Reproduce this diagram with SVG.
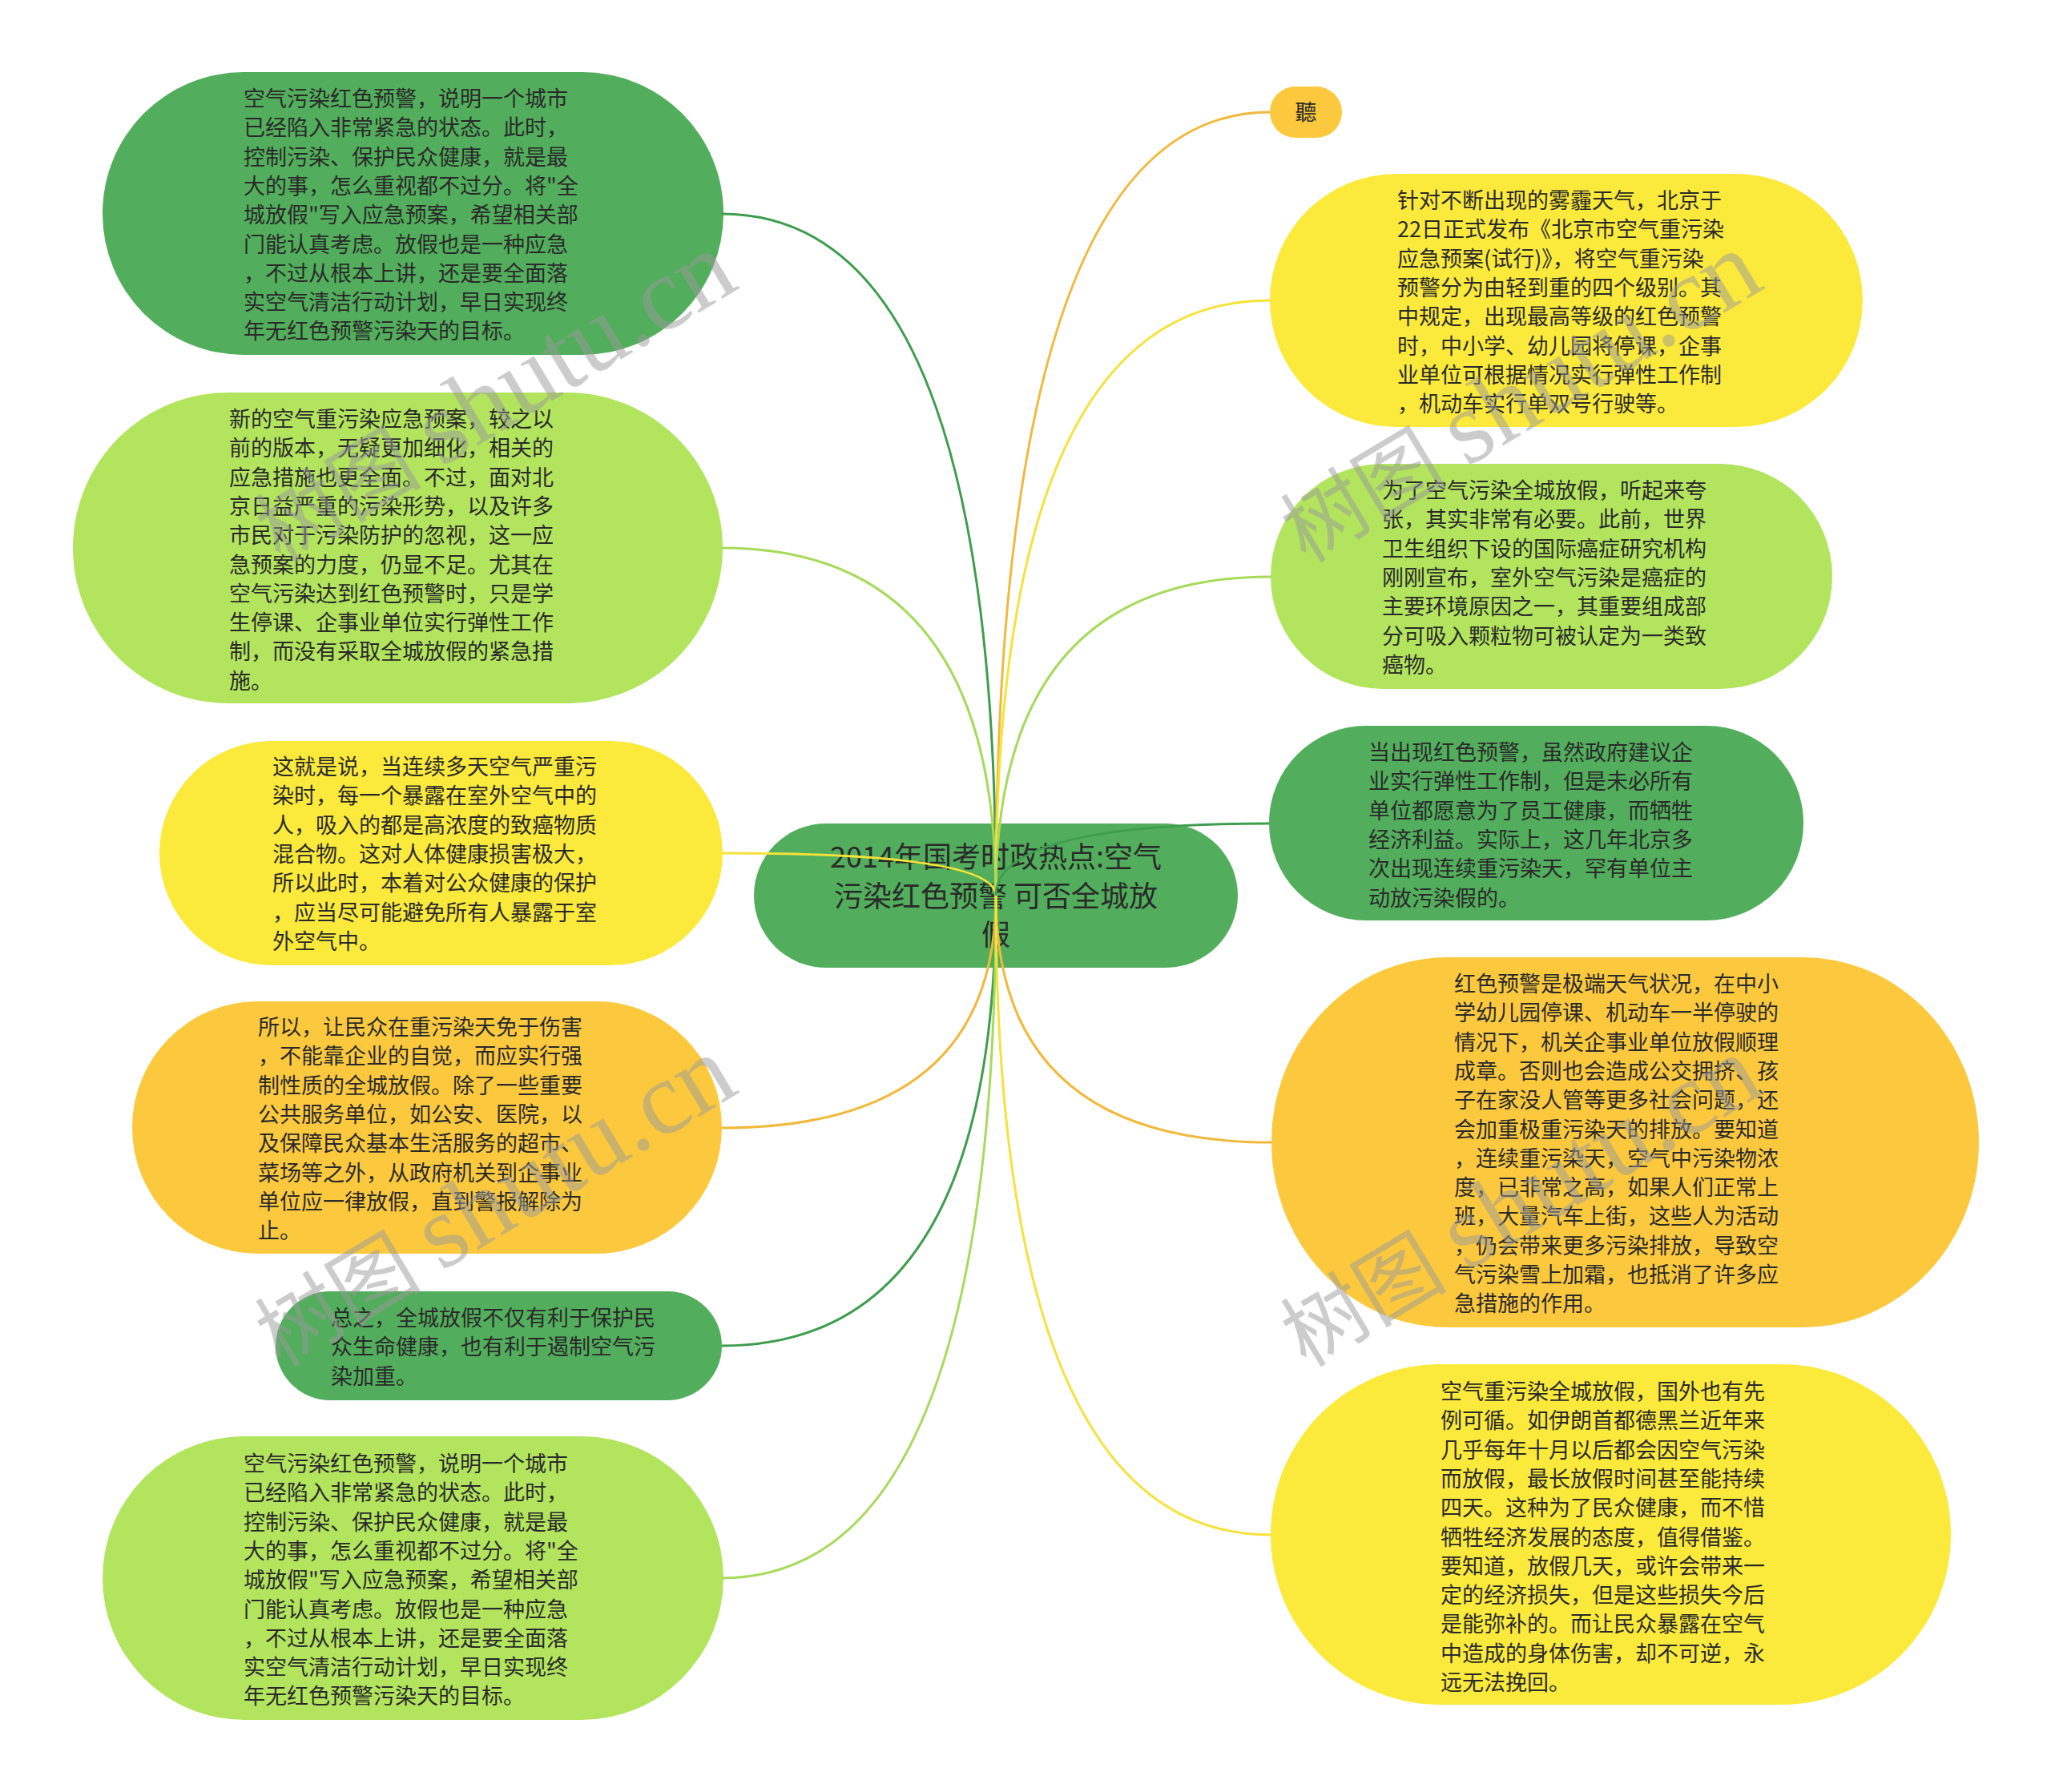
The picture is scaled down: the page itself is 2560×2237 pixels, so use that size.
<svg xmlns="http://www.w3.org/2000/svg" width="2560" height="2237" viewBox="0 0 2560 2237">
<style>
.t{font-family:"Noto Sans CJK SC","Noto Sans",sans-serif;font-size:27px;fill:#2a2a2a}
.ct{font-family:"Noto Sans CJK SC","Noto Sans",sans-serif;font-size:36px;fill:#2a2a2a;text-anchor:middle}
.dg{fill:#52ae5c}.lg{fill:#b3e45e}.yl{fill:#fbe93b}.or{fill:#fcc93e}
.e{fill:none;stroke-width:3}
.edg{stroke:#3f9d4e}.elg{stroke:#a7da5b}.eyl{stroke:#f5e23b}.eor{stroke:#f1b93c}
.wm{font-family:"Liberation Serif","Noto Sans CJK SC",serif;font-size:104px;fill:#9a9a9a;opacity:0.5}
.wl{font-size:130px}
</style>
<rect width="2560" height="2237" fill="#ffffff"/>
<g id="nodes">
<g id="n-left1">
<rect class="dg" x="128" y="90" width="775" height="353" rx="176" ry="176"/>
<text class="t" x="304" y="133"><tspan x="304" dy="0">空气污染红色预警，说明一个城市</tspan><tspan x="304" dy="36.3">已经陷入非常紧急的状态。此时，</tspan><tspan x="304" dy="36.3">控制污染、保护民众健康，就是最</tspan><tspan x="304" dy="36.3">大的事，怎么重视都不过分。将"全</tspan><tspan x="304" dy="36.3">城放假"写入应急预案，希望相关部</tspan><tspan x="304" dy="36.3">门能认真考虑。放假也是一种应急</tspan><tspan x="304" dy="36.3">，不过从根本上讲，还是要全面落</tspan><tspan x="304" dy="36.3">实空气清洁行动计划，早日实现终</tspan><tspan x="304" dy="36.3">年无红色预警污染天的目标。</tspan></text>
</g>
<g id="n-left2">
<rect class="lg" x="91" y="490" width="811" height="388" rx="194" ry="194"/>
<text class="t" x="286" y="533"><tspan x="286" dy="0">新的空气重污染应急预案，较之以</tspan><tspan x="286" dy="36.3">前的版本，无疑更加细化，相关的</tspan><tspan x="286" dy="36.3">应急措施也更全面。不过，面对北</tspan><tspan x="286" dy="36.3">京日益严重的污染形势，以及许多</tspan><tspan x="286" dy="36.3">市民对于污染防护的忽视，这一应</tspan><tspan x="286" dy="36.3">急预案的力度，仍显不足。尤其在</tspan><tspan x="286" dy="36.3">空气污染达到红色预警时，只是学</tspan><tspan x="286" dy="36.3">生停课、企事业单位实行弹性工作</tspan><tspan x="286" dy="36.3">制，而没有采取全城放假的紧急措</tspan><tspan x="286" dy="36.3">施。</tspan></text>
</g>
<g id="n-left3">
<rect class="yl" x="199" y="925" width="703" height="280" rx="140" ry="140"/>
<text class="t" x="340" y="967"><tspan x="340" dy="0">这就是说，当连续多天空气严重污</tspan><tspan x="340" dy="36.3">染时，每一个暴露在室外空气中的</tspan><tspan x="340" dy="36.3">人，吸入的都是高浓度的致癌物质</tspan><tspan x="340" dy="36.3">混合物。这对人体健康损害极大，</tspan><tspan x="340" dy="36.3">所以此时，本着对公众健康的保护</tspan><tspan x="340" dy="36.3">，应当尽可能避免所有人暴露于室</tspan><tspan x="340" dy="36.3">外空气中。</tspan></text>
</g>
<g id="n-left4">
<rect class="or" x="165" y="1250" width="736" height="315" rx="157" ry="157"/>
<text class="t" x="322" y="1292"><tspan x="322" dy="0">所以，让民众在重污染天免于伤害</tspan><tspan x="322" dy="36.3">，不能靠企业的自觉，而应实行强</tspan><tspan x="322" dy="36.3">制性质的全城放假。除了一些重要</tspan><tspan x="322" dy="36.3">公共服务单位，如公安、医院，以</tspan><tspan x="322" dy="36.3">及保障民众基本生活服务的超市、</tspan><tspan x="322" dy="36.3">菜场等之外，从政府机关到企事业</tspan><tspan x="322" dy="36.3">单位应一律放假，直到警报解除为</tspan><tspan x="322" dy="36.3">止。</tspan></text>
</g>
<g id="n-left5">
<rect class="dg" x="344" y="1612" width="557" height="136" rx="68" ry="68"/>
<text class="t" x="413" y="1655"><tspan x="413" dy="0">总之，全城放假不仅有利于保护民</tspan><tspan x="413" dy="36.3">众生命健康，也有利于遏制空气污</tspan><tspan x="413" dy="36.3">染加重。</tspan></text>
</g>
<g id="n-left6">
<rect class="lg" x="128" y="1793" width="775" height="354" rx="177" ry="177"/>
<text class="t" x="304" y="1837"><tspan x="304" dy="0">空气污染红色预警，说明一个城市</tspan><tspan x="304" dy="36.3">已经陷入非常紧急的状态。此时，</tspan><tspan x="304" dy="36.3">控制污染、保护民众健康，就是最</tspan><tspan x="304" dy="36.3">大的事，怎么重视都不过分。将"全</tspan><tspan x="304" dy="36.3">城放假"写入应急预案，希望相关部</tspan><tspan x="304" dy="36.3">门能认真考虑。放假也是一种应急</tspan><tspan x="304" dy="36.3">，不过从根本上讲，还是要全面落</tspan><tspan x="304" dy="36.3">实空气清洁行动计划，早日实现终</tspan><tspan x="304" dy="36.3">年无红色预警污染天的目标。</tspan></text>
</g>
<g id="n-center">
<rect class="dg" x="941" y="1028" width="604" height="180" rx="90" ry="90"/>
<text class="ct" x="1243" y="1083"><tspan x="1243" dy="0">2014年国考时政热点:空气</tspan><tspan x="1243" dy="48.5">污染红色预警 可否全城放</tspan><tspan x="1243" dy="48.5">假</tspan></text>
</g>
<g id="n-right0">
<rect class="or" x="1585" y="108" width="90" height="64" rx="32" ry="32"/>
<text class="t" x="1630" y="150" text-anchor="middle">聽</text>
</g>
<g id="n-right1">
<rect class="yl" x="1585" y="217" width="740" height="316" rx="158" ry="158"/>
<text class="t" x="1744" y="260"><tspan x="1744" dy="0">针对不断出现的雾霾天气，北京于</tspan><tspan x="1744" dy="36.3">22日正式发布《北京市空气重污染</tspan><tspan x="1744" dy="36.3">应急预案(试行)》，将空气重污染</tspan><tspan x="1744" dy="36.3">预警分为由轻到重的四个级别。其</tspan><tspan x="1744" dy="36.3">中规定，出现最高等级的红色预警</tspan><tspan x="1744" dy="36.3">时，中小学、幼儿园将停课，企事</tspan><tspan x="1744" dy="36.3">业单位可根据情况实行弹性工作制</tspan><tspan x="1744" dy="36.3">，机动车实行单双号行驶等。</tspan></text>
</g>
<g id="n-right2">
<rect class="lg" x="1586" y="579" width="701" height="281" rx="140" ry="140"/>
<text class="t" x="1725" y="622"><tspan x="1725" dy="0">为了空气污染全城放假，听起来夸</tspan><tspan x="1725" dy="36.3">张，其实非常有必要。此前，世界</tspan><tspan x="1725" dy="36.3">卫生组织下设的国际癌症研究机构</tspan><tspan x="1725" dy="36.3">刚刚宣布，室外空气污染是癌症的</tspan><tspan x="1725" dy="36.3">主要环境原因之一，其重要组成部</tspan><tspan x="1725" dy="36.3">分可吸入颗粒物可被认定为一类致</tspan><tspan x="1725" dy="36.3">癌物。</tspan></text>
</g>
<g id="n-right3">
<rect class="dg" x="1584" y="906" width="667" height="243" rx="121" ry="121"/>
<text class="t" x="1708" y="949"><tspan x="1708" dy="0">当出现红色预警，虽然政府建议企</tspan><tspan x="1708" dy="36.3">业实行弹性工作制，但是未必所有</tspan><tspan x="1708" dy="36.3">单位都愿意为了员工健康，而牺牲</tspan><tspan x="1708" dy="36.3">经济利益。实际上，这几年北京多</tspan><tspan x="1708" dy="36.3">次出现连续重污染天，罕有单位主</tspan><tspan x="1708" dy="36.3">动放污染假的。</tspan></text>
</g>
<g id="n-right4">
<rect class="or" x="1587" y="1195" width="883" height="462" rx="220" ry="231"/>
<text class="t" x="1815" y="1238"><tspan x="1815" dy="0">红色预警是极端天气状况，在中小</tspan><tspan x="1815" dy="36.3">学幼儿园停课、机动车一半停驶的</tspan><tspan x="1815" dy="36.3">情况下，机关企事业单位放假顺理</tspan><tspan x="1815" dy="36.3">成章。否则也会造成公交拥挤、孩</tspan><tspan x="1815" dy="36.3">子在家没人管等更多社会问题，还</tspan><tspan x="1815" dy="36.3">会加重极重污染天的排放。要知道</tspan><tspan x="1815" dy="36.3">，连续重污染天，空气中污染物浓</tspan><tspan x="1815" dy="36.3">度，已非常之高，如果人们正常上</tspan><tspan x="1815" dy="36.3">班，大量汽车上街，这些人为活动</tspan><tspan x="1815" dy="36.3">，仍会带来更多污染排放，导致空</tspan><tspan x="1815" dy="36.3">气污染雪上加霜，也抵消了许多应</tspan><tspan x="1815" dy="36.3">急措施的作用。</tspan></text>
</g>
<g id="n-right5">
<rect class="yl" x="1586" y="1703" width="849" height="425" rx="212" ry="212"/>
<text class="t" x="1798" y="1747"><tspan x="1798" dy="0">空气重污染全城放假，国外也有先</tspan><tspan x="1798" dy="36.3">例可循。如伊朗首都德黑兰近年来</tspan><tspan x="1798" dy="36.3">几乎每年十月以后都会因空气污染</tspan><tspan x="1798" dy="36.3">而放假，最长放假时间甚至能持续</tspan><tspan x="1798" dy="36.3">四天。这种为了民众健康，而不惜</tspan><tspan x="1798" dy="36.3">牺牲经济发展的态度，值得借鉴。</tspan><tspan x="1798" dy="36.3">要知道，放假几天，或许会带来一</tspan><tspan x="1798" dy="36.3">定的经济损失，但是这些损失今后</tspan><tspan x="1798" dy="36.3">是能弥补的。而让民众暴露在空气</tspan><tspan x="1798" dy="36.3">中造成的身体伤害，却不可逆，永</tspan><tspan x="1798" dy="36.3">远无法挽回。</tspan></text>
</g>
</g>
<g id="connectors">
<path class="e edg" d="M1243,1118 Q1243,267 901,267"/>
<path class="e elg" d="M1243,1118 Q1243,684 901,684"/>
<path class="e eyl" d="M1243,1118 Q1243,1065 901,1065"/>
<path class="e eor" d="M1243,1118 Q1243,1408 901,1408"/>
<path class="e edg" d="M1243,1118 Q1243,1680 901,1680"/>
<path class="e elg" d="M1243,1118 Q1243,1970 901,1970"/>
<path class="e eor" d="M1243,1118 Q1243,140 1585,140"/>
<path class="e eyl" d="M1243,1118 Q1243,375 1585,375"/>
<path class="e elg" d="M1243,1118 Q1243,720 1586,720"/>
<path class="e edg" d="M1243,1118 Q1243,1028 1584,1028"/>
<path class="e eor" d="M1243,1118 Q1243,1426 1587,1426"/>
<path class="e eyl" d="M1243,1118 Q1243,1916 1586,1916"/>
</g>
<g id="watermarks">
<text class="wm" x="350" y="704" transform="rotate(-31 350 704)">树图 <tspan class="wl">shutu.cn</tspan></text>
<text class="wm" x="1630" y="704" transform="rotate(-31 1630 704)">树图 <tspan class="wl">shutu.cn</tspan></text>
<text class="wm" x="350" y="1708" transform="rotate(-31 350 1708)">树图 <tspan class="wl">shutu.cn</tspan></text>
<text class="wm" x="1630" y="1708" transform="rotate(-31 1630 1708)">树图 <tspan class="wl">shutu.cn</tspan></text>
</g>
</svg>
